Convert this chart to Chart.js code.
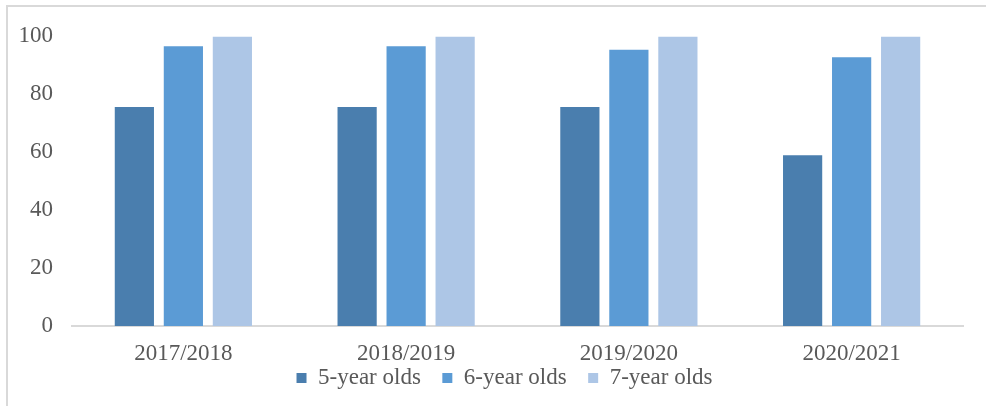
<!DOCTYPE html>
<html>
<head>
<meta charset="utf-8">
<script src="https://cdn.jsdelivr.net/npm/chart.js@4"></script>
<style>
  html, body { margin: 0; padding: 0; background: #fff; }
  #wrap { position: relative; width: 986px; height: 406px; overflow: hidden; }
  #frame { position: absolute; left: 6px; top: 5px; width: 1200px; height: 600px;
           border-left: 2px solid #d9d9d9; border-top: 2px solid #d9d9d9; }
  #chart { position: absolute; left: 0; top: 0; }
</style>
</head>
<body>
<div id="wrap">
  <div id="frame"></div>
  <canvas id="chart" width="986" height="406"></canvas>
</div>
<script>
const years = ['2017/2018', '2018/2019', '2019/2020', '2020/2021'];
const fiveYearOlds = [75.5, 75.5, 75.5, 58.9];
const sixYearOlds = [96.5, 96.5, 95.3, 92.7];
const sevenYearOlds = [99.7, 99.7, 99.7, 99.7];
const yTicks = [0, 20, 40, 60, 80, 100];

const textColor = '#595959';
const font = { family: "'Liberation Serif', 'Times New Roman', serif", size: 23 };

// compact legend: small layout box, then widened upward so nothing is clipped
const legendTweak = {
    id: 'legendTweak',
    beforeInit(chart) {
        const legend = chart.legend;
        const fit = legend.fit;
        legend.fit = function () {
            fit.call(this);
            this.height = 24.5;
            this.minSize = { width: this.width, height: 24.5 };
        };
    },
    afterLayout(chart) {
        const legend = chart.legend;
        legend.left += 23;
        legend.right += 23;
        legend.top -= 36.5;
    }
};

const ctx = document.getElementById('chart').getContext('2d');
const chart = new Chart(ctx, {
    type: 'bar',
    data: {
        labels: years,
        datasets: [
            { label: '5-year olds', data: fiveYearOlds, backgroundColor: '#4a7eae' },
            { label: '6-year olds', data: sixYearOlds, backgroundColor: '#5b9bd5' },
            { label: '7-year olds', data: sevenYearOlds, backgroundColor: '#adc6e6' }
        ]
    },
    options: {
        responsive: false,
        animation: false,
        categoryPercentage: 0.66,
        barPercentage: 0.8,
        layout: {
            padding: { top: 36, right: 23, left: 0, bottom: 0 }
        },
        scales: {
            x: {
                grid: { display: true, drawOnChartArea: false, drawTicks: false, color: 'transparent' },
                border: { display: true, color: '#d9d9d9', width: 2 },
                ticks: { color: textColor, font: font, padding: 14 }
            },
            y: {
                min: 0,
                max: 100,
                grid: { display: false, drawTicks: false },
                border: { display: false },
                afterFit: (scale) => { scale.width = 72; },
                afterBuildTicks: (scale) => { scale.ticks = yTicks.map(v => ({ value: v })); },
                ticks: { color: textColor, font: font, padding: 19 }
            }
        },
        plugins: {
            legend: {
                position: 'bottom',
                labels: {
                    color: textColor,
                    font: font,
                    boxWidth: 10,
                    boxHeight: 10,
                    padding: 21.5
                }
            },
            tooltip: { enabled: false }
        }
    },
    plugins: [legendTweak]
});
</script>
</body>
</html>
